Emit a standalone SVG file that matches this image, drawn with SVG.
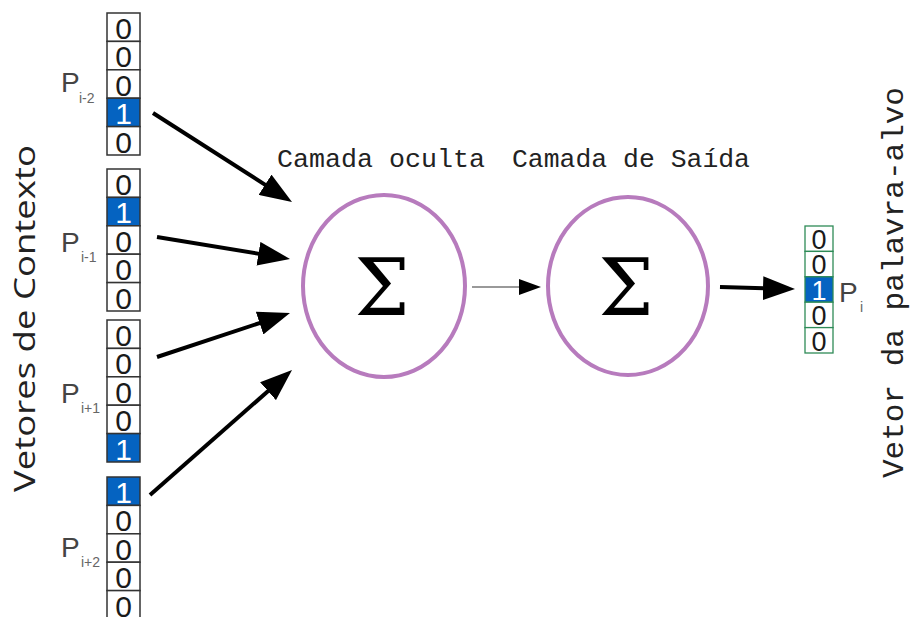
<svg xmlns="http://www.w3.org/2000/svg" width="912" height="617" viewBox="0 0 912 617">
<style>
.cell{fill:#fff;stroke:#333;stroke-width:1.5}
.hot{fill:#0563c1;stroke:#333;stroke-width:1.5}
.cellg{fill:#fff;stroke:#2e8b57;stroke-width:1.3}
.hotg{fill:#0563c1;stroke:#2e8b57;stroke-width:1.3}
.d{font-family:"Liberation Sans",Arial,sans-serif;font-size:30px;fill:#1a1a1a;text-anchor:middle}
.ds{font-family:"Liberation Sans",Arial,sans-serif;font-size:27px;fill:#1a1a1a;text-anchor:middle}
.w{fill:#fff}
.p{font-family:"Liberation Sans",Arial,sans-serif;font-size:28px;fill:#444}
.sub{font-family:"Liberation Sans",Arial,sans-serif;font-size:14px;fill:#666}
.mono{font-family:"Liberation Mono","Courier New",monospace;fill:#222}
.node{fill:#fff;stroke:#b77bbd;stroke-width:4}
.sig{font-family:"DejaVu Serif","Liberation Serif",serif;font-size:78px;fill:#000;text-anchor:middle}
.thick{stroke:#000;stroke-width:4;fill:none}
</style>
<defs>
<marker id="ah" markerWidth="8" markerHeight="6" refX="1" refY="3" orient="auto" markerUnits="strokeWidth">
<path d="M0,0 L8,3 L0,6 z" fill="#000"/>
</marker>
<marker id="ahs" markerWidth="22" markerHeight="16" refX="0" refY="8" orient="auto" markerUnits="userSpaceOnUse">
<path d="M0,0 L22,8 L0,16 z" fill="#000"/>
</marker>
</defs>

<text transform="translate(35,492) rotate(-90)" font-family="'Open Sans','DejaVu Sans',sans-serif" font-size="30" fill="#222" textLength="347" lengthAdjust="spacingAndGlyphs">Vetores de Contexto</text>
<text class="mono" transform="translate(903,478) rotate(-90)" font-size="29" textLength="391" lengthAdjust="spacingAndGlyphs">Vetor da palavra-alvo</text>

<g id="ctx1">
<rect class="cell" x="107" y="13" width="33" height="28.4"/>
<rect class="cell" x="107" y="41.4" width="33" height="28.4"/>
<rect class="cell" x="107" y="69.8" width="33" height="28.4"/>
<rect class="hot" x="107" y="98.2" width="33" height="28.4"/>
<rect class="cell" x="107" y="126.6" width="33" height="28.4"/>
<text class="d" x="123.5" y="39">0</text>
<text class="d" x="123.5" y="67.4">0</text>
<text class="d" x="123.5" y="95.8">0</text>
<text class="d w" x="123.5" y="124.2">1</text>
<text class="d" x="123.5" y="152.6">0</text>
<text class="p" x="61" y="92">P</text>
<text class="sub" x="79" y="103">i-2</text>
</g>

<g id="ctx2">
<rect class="cell" x="107" y="169" width="33" height="28.4"/>
<rect class="hot" x="107" y="197.4" width="33" height="28.4"/>
<rect class="cell" x="107" y="225.8" width="33" height="28.4"/>
<rect class="cell" x="107" y="254.2" width="33" height="28.4"/>
<rect class="cell" x="107" y="282.6" width="33" height="28.4"/>
<text class="d" x="123.5" y="195">0</text>
<text class="d w" x="123.5" y="223.4">1</text>
<text class="d" x="123.5" y="251.8">0</text>
<text class="d" x="123.5" y="280.2">0</text>
<text class="d" x="123.5" y="308.6">0</text>
<text class="p" x="61" y="252">P</text>
<text class="sub" x="81" y="262">i-1</text>
</g>

<g id="ctx3">
<rect class="cell" x="107" y="320" width="33" height="28.4"/>
<rect class="cell" x="107" y="348.4" width="33" height="28.4"/>
<rect class="cell" x="107" y="376.8" width="33" height="28.4"/>
<rect class="cell" x="107" y="405.2" width="33" height="28.4"/>
<rect class="hot" x="107" y="433.6" width="33" height="28.4"/>
<text class="d" x="123.5" y="346">0</text>
<text class="d" x="123.5" y="374.4">0</text>
<text class="d" x="123.5" y="402.8">0</text>
<text class="d" x="123.5" y="431.2">0</text>
<text class="d w" x="123.5" y="459.6">1</text>
<text class="p" x="61" y="403">P</text>
<text class="sub" x="81" y="413">i+1</text>
</g>

<g id="ctx4">
<rect class="hot" x="107" y="477" width="33" height="28.4"/>
<rect class="cell" x="107" y="505.4" width="33" height="28.4"/>
<rect class="cell" x="107" y="533.8" width="33" height="28.4"/>
<rect class="cell" x="107" y="562.2" width="33" height="28.4"/>
<rect class="cell" x="107" y="590.6" width="33" height="28.4"/>
<text class="d w" x="123.5" y="503">1</text>
<text class="d" x="123.5" y="531.4">0</text>
<text class="d" x="123.5" y="559.8">0</text>
<text class="d" x="123.5" y="588.2">0</text>
<text class="d" x="123.5" y="616.6">0</text>
<text class="p" x="61" y="557">P</text>
<text class="sub" x="81" y="567">i+2</text>
</g>

<g id="hidden">
<ellipse class="node" cx="384" cy="286" rx="81" ry="91"/>
<text class="sig" x="382" y="315">Σ</text>
<text class="mono" x="277" y="167" font-size="26" textLength="208" lengthAdjust="spacingAndGlyphs">Camada oculta</text>
</g>

<g id="output">
<ellipse class="node" cx="628" cy="286" rx="80" ry="89"/>
<text class="sig" x="626" y="315">Σ</text>
<text class="mono" x="512" y="167" font-size="26" textLength="238" lengthAdjust="spacingAndGlyphs">Camada de Saída</text>
</g>

<g id="target">
<rect class="cellg" x="805" y="226" width="28" height="25.4"/>
<rect class="cellg" x="805" y="251.4" width="28" height="25.4"/>
<rect class="hotg" x="805" y="276.8" width="28" height="25.4"/>
<rect class="cellg" x="805" y="302.2" width="28" height="25.4"/>
<rect class="cellg" x="805" y="327.6" width="28" height="25.4"/>
<text class="ds" x="819" y="249">0</text>
<text class="ds" x="819" y="274.4">0</text>
<text class="ds w" x="819" y="299.8">1</text>
<text class="ds" x="819" y="325.2">0</text>
<text class="ds" x="819" y="350.6">0</text>
<text class="p" x="839" y="302">P</text>
<text class="sub" x="860" y="312">i</text>
</g>

<g id="connectors">
<line class="thick" x1="153" y1="113" x2="268.4" y2="186.9" marker-end="url(#ah)"/>
<line class="thick" x1="157" y1="237" x2="262.4" y2="254.4" marker-end="url(#ah)"/>
<line class="thick" x1="157" y1="357" x2="263.4" y2="321.8" marker-end="url(#ah)"/>
<line class="thick" x1="150" y1="495" x2="271" y2="388.5" marker-end="url(#ah)"/>
<line x1="472" y1="287" x2="519" y2="287" stroke="#777" stroke-width="1.5" marker-end="url(#ahs)"/>
<line class="thick" x1="720" y1="287" x2="767" y2="288.3" marker-end="url(#ah)"/>
</g>
</svg>
